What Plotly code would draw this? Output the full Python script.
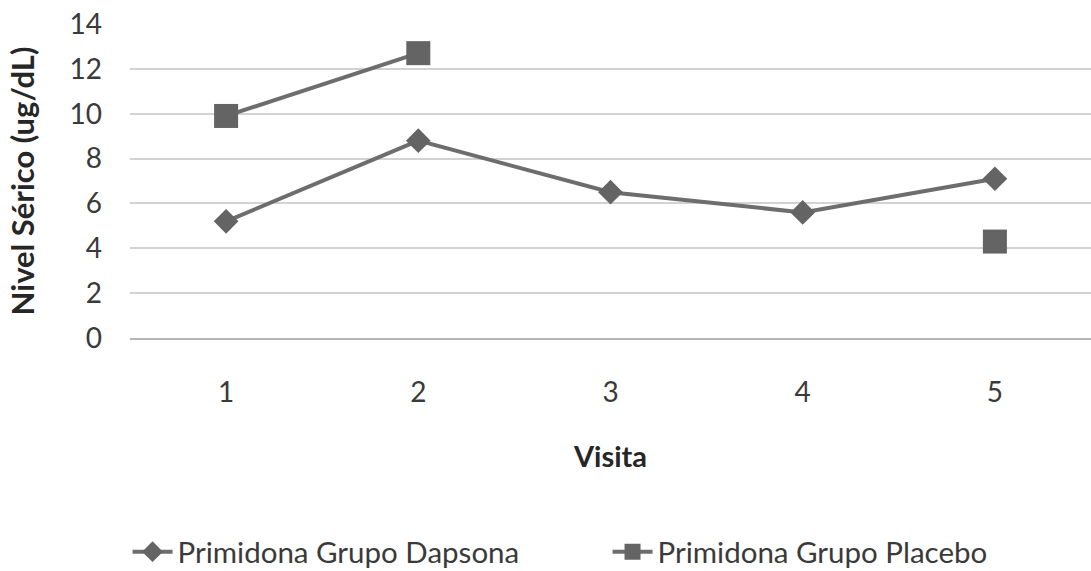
import plotly.graph_objects as go

visitas = ["1", "2", "3", "4", "5"]
dapsona = [5.2, 8.8, 6.5, 5.6, 7.1]
placebo = [9.9, 12.7, None, None, 4.3]
y_ticks = [0, 2, 4, 6, 8, 10, 12, 14]

FONT = "Lato, 'Open Sans', sans-serif"
LINE = "#6d6d6d"
MARK = "#646464"
TXT = "#3a3a3a"

fig = go.Figure()
fig.add_trace(go.Scatter(
    x=visitas, y=dapsona, mode="lines+markers", name="Primidona Grupo Dapsona",
    line=dict(color=LINE, width=4),
    marker=dict(symbol="diamond", size=19, color=MARK),
))
fig.add_trace(go.Scatter(
    x=visitas, y=placebo, mode="lines+markers", name="Primidona Grupo Placebo",
    line=dict(color=LINE, width=4), connectgaps=False,
    marker=dict(symbol="square", size=24, color=MARK),
))

fig.update_layout(
    width=1091, height=571,
    margin=dict(l=130, r=0, t=24, b=233),
    paper_bgcolor="white", plot_bgcolor="white",
    font=dict(family=FONT, size=28, color=TXT),
    showlegend=True,
    legend=dict(orientation="h", xref="container", yref="container",
                x=0.1169, xanchor="left", y=0.0333, yanchor="middle",
                font=dict(size=29.5, color=TXT), itemwidth=40,
                tracegroupgap=0, entrywidth=425),
    xaxis=dict(
        type="category", range=[-0.5, 4.5], automargin=False,
        showgrid=False, showline=True, linecolor="#b5b5b5", linewidth=2,
        ticks="", ticklabelstandoff=28,
        tickfont=dict(size=28, color=TXT),
        title=dict(text="<b>Visita</b>", font=dict(size=29, color="#262626"), standoff=40),
    ),
    yaxis=dict(
        range=[0, 14], tickvals=y_ticks, showgrid=True, gridcolor="#d2d2d2", gridwidth=2,
        automargin=False,
        zeroline=False, showline=False, ticks="", ticklabelstandoff=27,
        tickfont=dict(size=28, color=TXT),
        title=dict(text="<b>Nivel Sérico (ug/dL)</b>", font=dict(size=31, color="#262626"), standoff=25),
    ),
)

fig.write_html("out.html", config={"displayModeBar": False},
               post_script="document.body.style.margin='0';document.body.style.overflow='hidden';")
